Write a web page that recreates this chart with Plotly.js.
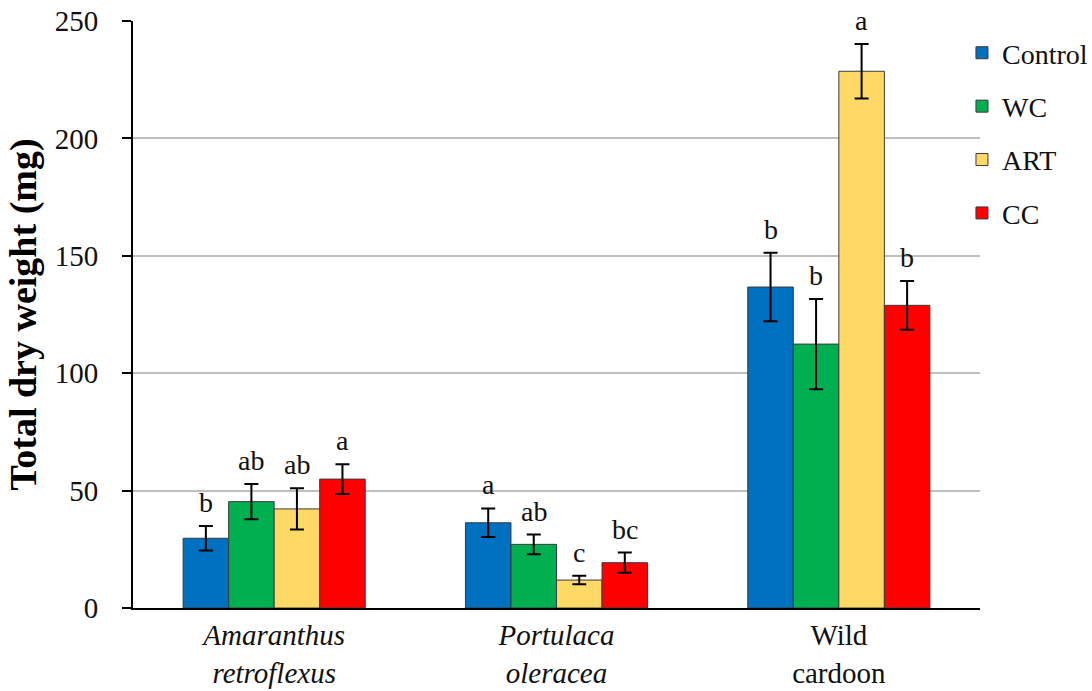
<!DOCTYPE html>
<html>
<head>
<meta charset="utf-8">
<script src="https://cdn.plot.ly/plotly-3.0.1.min.js"></script>
<style>
  html, body { margin: 0; padding: 0; background: #fff; }
  #chart { width: 1092px; height: 691px; }
</style>
</head>
<body>
<div id="chart"></div>
<script>
// ---- data ----
const categories = ["<i>Amaranthus</i><br><i>retroflexus</i>", "<i>Portulaca</i><br><i>oleracea</i>", "Wild<br>cardoon"];
const seriesNames = ["Control", "WC", "ART", "CC"];

const controlValues = [29.7, 36.3, 136.7];
const controlErrors = [5.2, 6.1, 14.6];
const controlLetters = ["b", "a", "b"];

const wcValues = [45.3, 27.1, 112.4];
const wcErrors = [7.5, 4.2, 19.2];
const wcLetters = ["ab", "ab", "b"];

const artValues = [42.2, 11.9, 228.6];
const artErrors = [8.8, 1.8, 11.6];
const artLetters = ["ab", "c", "a"];

const ccValues = [54.9, 19.3, 128.9];
const ccErrors = [6.3, 4.3, 10.4];
const ccLetters = ["a", "bc", "b"];

const yTickValues = [0, 50, 100, 150, 200, 250];

// ---- styling ----
const colors = ["#0070C0", "#00B050", "#FFD966", "#FF0000"];
const FONT = "Liberation Serif, serif";
const W = 1092, H = 691;
const margin = {l: 133, r: 112, t: 21, b: 83, autoexpand: false};
const bargap = 0.355;

const allValues = [controlValues, wcValues, artValues, ccValues];
const allErrors = [controlErrors, wcErrors, artErrors, ccErrors];
const allLetters = [controlLetters, wcLetters, artLetters, ccLetters];

const traces = seriesNames.map((name, i) => ({
  type: "bar",
  name: name,
  x: categories,
  y: allValues[i],
  legendgroup: "g" + i,
  marker: {color: colors[i], line: {color: "#3a3a3a", width: 1}},
  error_y: {type: "data", array: allErrors[i], visible: true, color: "#000", thickness: 2, width: 7}
}));

// letter annotations positioned above each error bar
const plotW = W - margin.l - margin.r;
const catW = plotW / categories.length;
const barW = catW * (1 - bargap) / seriesNames.length;
const annotations = [];
seriesNames.forEach((name, i) => {
  categories.forEach((c, j) => {
    annotations.push({
      xref: "x", yref: "y",
      x: c, y: allValues[i][j] + allErrors[i][j],
      xshift: (i - (seriesNames.length - 1) / 2) * barW,
      yshift: 6,
      yanchor: "bottom",
      text: allLetters[i][j],
      showarrow: false,
      font: {family: FONT, size: 28, color: "#111111"}
    });
  });
});

const layout = {
  width: W, height: H,
  margin: margin,
  paper_bgcolor: "#ffffff", plot_bgcolor: "#ffffff",
  barmode: "group",
  bargap: bargap,
  bargroupgap: 0,
  showlegend: true,
  legend: {
    x: 0.9787, xanchor: "left", y: 0.988, yanchor: "top",
    font: {family: FONT, size: 28, color: "#111111"},
    traceorder: "grouped",
    tracegroupgap: 14,
    bgcolor: "rgba(0,0,0,0)"
  },
  xaxis: {
    type: "category",
    showline: true, linecolor: "#000000", linewidth: 2,
    ticks: "", showgrid: false,
    tickfont: {family: FONT, size: 29, color: "#111111"},
    ticklabelstandoff: 0,
    automargin: false
  },
  yaxis: {
    range: [0, 250],
    tickvals: yTickValues,
    ticktext: yTickValues.map(String),
    showline: true, linecolor: "#000000", linewidth: 2,
    ticks: "outside", ticklen: 9, tickwidth: 2, tickcolor: "#000000",
    showgrid: true, gridcolor: "#BFBFBF", gridwidth: 2,
    zeroline: false,
    tickfont: {family: FONT, size: 29, color: "#111111"},
    ticklabelstandoff: 18,
    automargin: false,
    title: {
      text: "<b>Total dry weight (mg)</b>",
      font: {family: FONT, size: 38, color: "#000000"},
      standoff: 6
    }
  },
  annotations: annotations
};

Plotly.newPlot("chart", traces, layout, {displayModeBar: false});
</script>
</body>
</html>
